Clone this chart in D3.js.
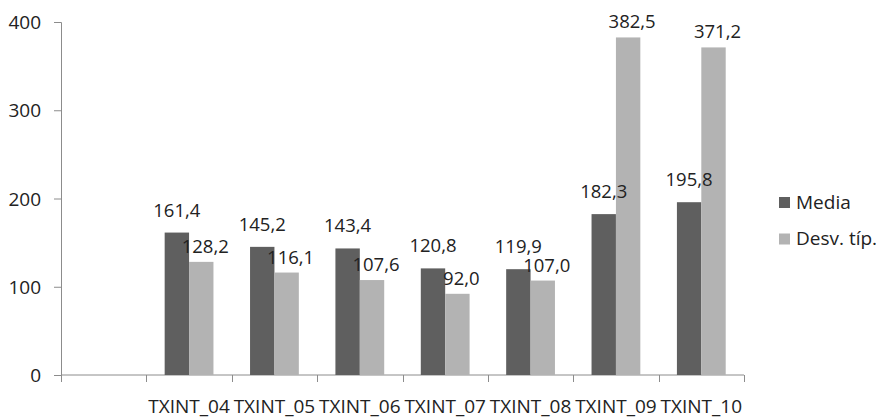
<!DOCTYPE html>
<html>
<head>
<meta charset="utf-8">
<script src="https://cdn.jsdelivr.net/npm/d3@7"></script>
<style>
  html, body { margin: 0; padding: 0; background: #fff; }
  svg { display: block; }
  text { font-family: "Open Sans", "Noto Sans", sans-serif; fill: #222; }
</style>
</head>
<body>
<svg id="chart" width="876" height="418"></svg>
<script>
// Categories (the first slot is an empty category, as in the source sheet)
const categories = ["", "TXINT_04", "TXINT_05", "TXINT_06", "TXINT_07", "TXINT_08", "TXINT_09", "TXINT_10"];
const seriesNames = ["Media", "Desv. típ."];
const media = [null, 161.4, 145.2, 143.4, 120.8, 119.9, 182.3, 195.8];
const desv  = [null, 128.2, 116.1, 107.6, 92.0, 107.0, 382.5, 371.2];
const yTicks = [0, 100, 200, 300, 400];
const colors = ["#5f5f5f", "#b3b3b3"];

const fmt = v => v.toFixed(1).replace(".", ",");

const svg = d3.select("#chart");
const plot = { left: 61, right: 744, top: 22, bottom: 375 };

const x = d3.scaleBand().domain(categories).range([plot.left, plot.right]).padding(0);
// Gap width of 150%: each bar = category / 3.5
const xs = d3.scaleBand().domain(seriesNames).range([0, x.bandwidth()])
  .paddingInner(0).paddingOuter(0.75);
const y = d3.scaleLinear().domain([0, 400]).range([plot.bottom, plot.top]);

const axisColor = "#8c8c8c";

// Y axis
const yAxis = svg.append("g")
  .attr("transform", `translate(${plot.left},0)`)
  .call(d3.axisLeft(y).tickValues(yTicks).tickSize(7).tickPadding(13).tickFormat(d3.format("d")));
yAxis.select(".domain").attr("stroke", axisColor);
yAxis.selectAll(".tick line").attr("stroke", axisColor);
yAxis.selectAll(".tick text")
  .attr("font-size", 19).attr("font-family", null).attr("fill", "#222").attr("dy", "0.35em");

// X axis: boundary ticks between categories
const xAxis = svg.append("g").attr("transform", `translate(0,${plot.bottom})`);
xAxis.append("line")
  .attr("x1", plot.left).attr("x2", plot.right)
  .attr("stroke", axisColor);
const bounds = categories.map(c => x(c)).concat([x(categories[categories.length - 1]) + x.bandwidth()]);
xAxis.selectAll(".btick").data(bounds).join("line")
  .attr("class", "btick")
  .attr("x1", d => Math.round(d) + 0.5).attr("x2", d => Math.round(d) + 0.5)
  .attr("y1", 0).attr("y2", 7)
  .attr("stroke", axisColor);
xAxis.selectAll(".xlabel").data(categories.filter(c => c !== "")).join("text")
  .attr("class", "xlabel")
  .attr("x", d => x(d) + x.bandwidth() / 2)
  .attr("y", 38)
  .attr("text-anchor", "middle")
  .attr("font-size", 19)
  .text(d => d);

// Bars first, then value labels on top of all bars
const seriesData = [media, desv];
const labelDy = [16, 9];
const labelDx = [0, 4];
const barLayer = svg.append("g");
const labelLayer = svg.append("g");
seriesData.forEach((vals, si) => {
  const pts = categories.map((c, i) => ({ c, v: vals[i] })).filter(d => d.v != null);
  barLayer.append("g").selectAll("rect").data(pts).join("rect")
    .attr("x", d => x(d.c) + xs(seriesNames[si]))
    .attr("y", d => y(d.v))
    .attr("width", xs.bandwidth())
    .attr("height", d => y(0) - y(d.v))
    .attr("fill", colors[si]);
  labelLayer.append("g").selectAll("text").data(pts).join("text")
    .attr("x", d => x(d.c) + xs(seriesNames[si]) + xs.bandwidth() / 2 + labelDx[si])
    .attr("y", d => y(d.v) - labelDy[si])
    .attr("text-anchor", "middle")
    .attr("font-size", 18.5)
    .text(d => fmt(d.v));
});

// Legend
const legend = svg.append("g").attr("transform", "translate(779,197)");
seriesNames.forEach((name, i) => {
  const row = legend.append("g").attr("transform", `translate(0,${i * 36.5})`);
  row.append("rect").attr("width", 11).attr("height", 11).attr("fill", colors[i]);
  row.append("text").attr("x", 17).attr("y", 11.5).attr("font-size", 19).text(name);
});
</script>
</body>
</html>
